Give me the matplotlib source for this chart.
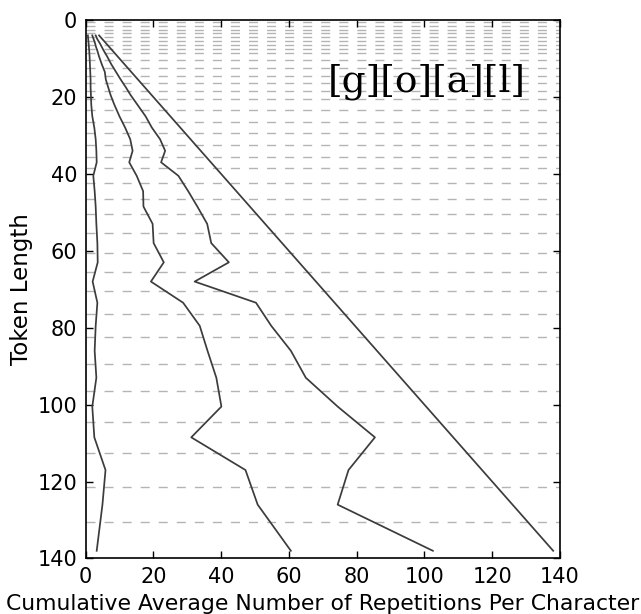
import matplotlib
matplotlib.use("Agg")
import matplotlib.pyplot as plt

# token length bin centres (y) and bin edges (dashed guide lines)
token_length = [4, 5, 6, 7, 8, 9.5, 11.5, 13.5, 15.5, 17.5, 19.5, 22, 25, 28, 31, 34, 37,
                40.5, 44.5, 48.5, 53, 58, 63, 68, 73.5, 79.5, 86, 93, 100.5, 108.5, 117, 126, 138]
bin_edges = [0.5, 1.5, 2.5, 3.5, 4.5, 5.5, 6.5, 7.5, 8.5, 10.5, 12.5, 14.5, 16.5, 18.5, 20.5,
             23.5, 26.5, 29.5, 32.5, 35.5, 38.5, 42.5, 46.5, 50.5, 55.5, 60.5, 65.5, 70.5,
             76.5, 82.5, 89.5, 96.5, 104.5, 112.5, 121.5, 130.5]

# cumulative average repetitions per character, one list per curve
reps_low = [0.7, 0.8, 0.9, 1.0, 1.1, 1.2, 1.3, 1.4, 1.5, 1.5, 1.6, 1.7, 2.0, 2.6, 3.0, 3.2, 3.3,
            2.3, 2.7, 3.0, 3.2, 3.5, 3.6, 2.1, 3.5, 3.0, 2.7, 3.2, 2.0, 2.6, 5.9, 5.0, 3.3]
reps_mid = [2.0, 2.4, 2.8, 3.1, 3.5, 4.0, 4.8, 5.7, 6.0, 6.7, 7.4, 8.5, 10.0, 11.7, 13.2, 13.9, 12.9,
            15.1, 17.0, 17.1, 19.8, 20.1, 23.1, 19.3, 28.8, 33.7, 36.0, 38.6, 40.1, 31.2, 47.2, 50.8, 60.6]
reps_high = [3.0, 3.5, 4.2, 4.8, 5.4, 6.4, 7.6, 9.0, 10.4, 11.9, 13.3, 15.3, 17.7, 19.6, 22.0, 23.5, 22.3,
             27.4, 30.3, 33.0, 35.9, 37.1, 42.3, 32.2, 50.3, 54.8, 60.6, 65.0, 74.4, 85.4, 77.6, 74.4, 102.5]
reps_max = [4, 5, 6, 7, 8, 9.5, 11.5, 13.5, 15.5, 17.5, 19.5, 22, 25, 28, 31, 34, 37,
            40.5, 44.5, 48.5, 53, 58, 63, 68, 73.5, 79.5, 86, 93, 100.5, 108.5, 117, 126, 138]

title = "[g][o][a][l]"

fig = plt.figure(figsize=(6.41, 6.14), dpi=100)
ax = fig.add_axes([0.1334, 0.0904, 0.7402, 0.877])

for e in bin_edges:
    ax.axhline(e, color="#b4b4b4", lw=1.0, dashes=(6.5, 6.5), zorder=1)

for series in [reps_low, reps_mid, reps_high, reps_max]:
    ax.plot(series, token_length, color="#3c3c3c", lw=1.25, zorder=2)

ax.set_xlim(0, 140)
ax.set_ylim(140, 0)
ax.set_xticks(range(0, 141, 20))
ax.set_yticks(range(0, 141, 20))
ax.tick_params(direction="in", top=True, right=True, length=5, width=1, labelsize=15, pad=6)
for s in ax.spines.values():
    s.set_linewidth(1.2)

ax.set_xlabel("Cumulative Average Number of Repetitions Per Character", fontsize=15.75, labelpad=5)
ax.set_ylabel("Token Length", fontsize=16.5, labelpad=3)

ax.text(0.511, 0.868, title, transform=ax.transAxes, fontsize=27,
        family="DejaVu Serif", ha="left", va="baseline")

fig.savefig("out.png", dpi=100, facecolor="white")
